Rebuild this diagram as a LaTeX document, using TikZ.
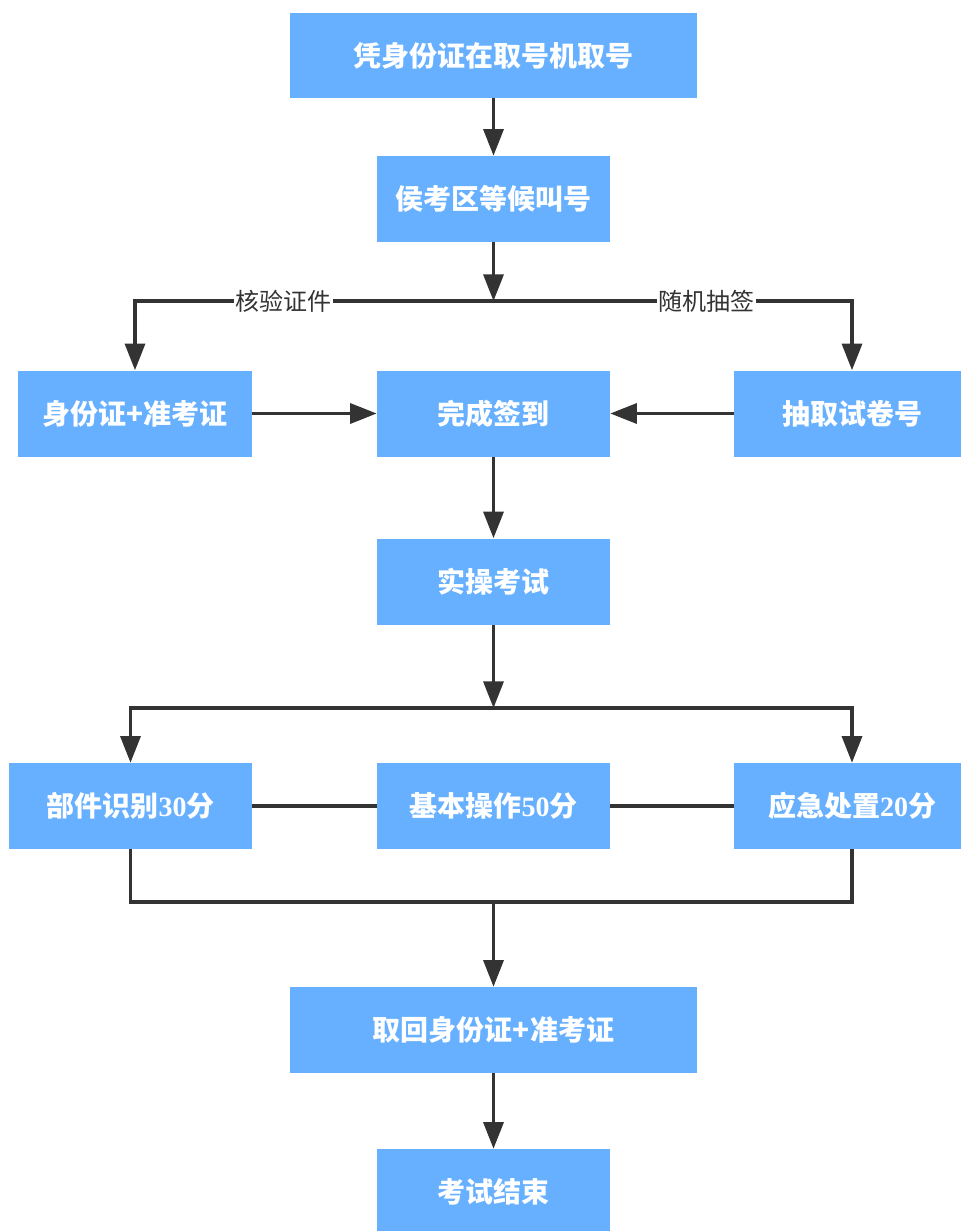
\documentclass[tikz,border=0pt]{standalone}
\usepackage{fontspec}
\newfontfamily\cjk{Noto Sans CJK SC}
\newfontfamily\dig{Liberation Serif}
\usetikzlibrary{arrows.meta}
\definecolor{boxblue}{HTML}{66B0FF}
\definecolor{linegray}{HTML}{333333}
\tikzset{
  box/.style={fill=boxblue, draw=none, inner sep=0pt, minimum height=64.5pt,
    text=white, font=\cjk\bfseries\fontsize{21pt}{25pt}\selectfont, align=center},
  narrow/.style={box, minimum width=174.75pt},
  wide/.style={box, minimum width=305.25pt},
  ln/.style={draw=linegray, line width=2.6pt},
  arr/.style={ln, -{Triangle[width=15pt,length=20pt]}, shorten >=0pt},
  lbl/.style={fill=white, inner sep=1pt, text=linegray,
    font=\cjk\fontsize{18pt}{21pt}\selectfont}
}
\begin{document}
\begin{tikzpicture}[x=0.75pt,y=-0.75pt]
\useasboundingbox (0,0) rectangle (960,1231);
\fill[white] (0,0) rectangle (960,1231);
% nodes
\node[wide, minimum height=63.75pt] (b1) at (493.5,55.5) {凭身份证在取号机取号};
\node[narrow] (b2) at (493.5,199) {侯考区等候叫号};
\node[narrow, minimum width=175.5pt] (b3) at (135,413.5) {身份证+准考证};
\node[narrow] (b4) at (493.5,413.5) {完成签到};
\node[narrow, minimum width=177pt] (b5) at (852,413.5) {抽取试卷号};
\node[narrow] (b6) at (493.5,581.5) {实操考试};
\node[narrow, minimum width=182.25pt] (b7) at (130.5,806) {部件识别{\dig\bfseries 30}分};
\node[narrow] (b8) at (493.5,806) {基本操作{\dig\bfseries 50}分};
\node[narrow, minimum width=177pt] (b9) at (852,806) {应急处置{\dig\bfseries 20}分};
\node[wide] (b10) at (493.5,1030) {取回身份证+准考证};
\node[narrow] (b11) at (493.5,1192) {考试结束};
\coordinate (s1) at (493.5,301);
\coordinate (s2) at (493.5,708);
\coordinate (m) at (493.5,902);
% connectors
\draw[arr] (b1) -- (b2);
\draw[arr] (b2) -- (s1);
\draw[arr] (s1) -| node[lbl, pos=0.293] (l1) {核验证件} (b3);
\draw[arr] (s1) -| node[lbl, pos=0.297] (l2) {随机抽签} (b5);
\draw[arr] (b3) -- (b4);
\draw[arr] (b5) -- (b4);
\draw[arr] (b4) -- (b6);
\draw[arr] (b6) -- (s2);
\draw[arr] (s2) -| (b7);
\draw[arr] (s2) -| (b9);
\draw[ln] (b7) -- (b8);
\draw[ln] (b8) -- (b9);
\draw[ln] (b7.south) |- (m) -| (b9.south);
\draw[arr] (m) -- (b10);
\draw[arr] (b10) -- (b11);
\end{tikzpicture}
\end{document}
